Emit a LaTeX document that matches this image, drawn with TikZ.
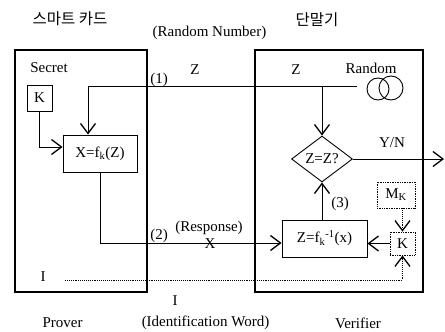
\documentclass[tikz,border=0pt]{standalone}
\usepackage{fontspec}
\setmainfont{Liberation Serif}
\newfontfamily\korfont{Noto Sans CJK KR}
\usetikzlibrary{shapes.geometric,arrows.meta,positioning,calc}

\begin{document}
\begin{tikzpicture}[
    x=1pt, y=-1pt,
    panel/.style={
        rectangle,
        draw,
        line width=1.1pt,
        inner sep=0pt
    },
    block/.style={
        rectangle,
        draw,
        line width=0.9pt,
        inner sep=0pt,
        font=\fontsize{15}{17}\selectfont
    },
    keybox/.style={
        rectangle,
        draw,
        densely dotted,
        line width=0.7pt,
        inner sep=0pt,
        font=\fontsize{15}{17}\selectfont
    },
    lbl/.style={inner sep=0pt, font=\fontsize{15}{17}\selectfont},
    kor/.style={inner sep=0pt, font=\korfont\fontsize{15.5}{17}\selectfont},
    arrow/.style={-{Straight Barb[length=10pt,width=15pt,line width=1.3pt]}, line width=0.9pt},
    idline/.style={densely dotted, line width=0.7pt}
]
    \useasboundingbox (0,0) rectangle (445,332);

    % Panels
    \node[panel, minimum width=132pt, minimum height=242pt] (card) at (81,171) {};
    \node[panel, minimum width=168pt, minimum height=242pt] (term) at (339,171) {};

    % Boxes
    \node[block, minimum width=25pt, minimum height=26pt] (key) at (39.5,98) {K};
    \node[block, minimum width=74pt, minimum height=37pt] (enc) at (100,153.5) {X=f\textsubscript{k}(Z)};
    \node[block, diamond, aspect=1.3, minimum width=61pt, minimum height=46pt] (cmp) at (322,159) {Z=Z?};
    \node[block, minimum width=85pt, minimum height=37pt] (dec) at (324.5,238.5) {Z=f\textsubscript{k}\textsuperscript{-1}(x)};
    \node[keybox, minimum width=38pt, minimum height=26pt] (mk) at (396,195) {M\textsubscript{K}};
    \node[keybox, minimum width=25pt, minimum height=23pt] (kv) at (402.5,243.5) {K};

    % Random source
    \node[circle, draw, line width=0.9pt, minimum size=22pt, inner sep=0pt] (rnda) at (378,89) {};
    \node[circle, draw, line width=0.9pt, minimum size=24pt, inner sep=0pt] (rndb) at (391,88) {};

    % Coordinates
    \coordinate (zl) at (88,86);
    \coordinate (zr) at (357,86);
    \coordinate (out) at (444,159);
    \coordinate (il) at (65,280);

    % Arrows
    \draw[line width=0.9pt] (zl) -- (zr);
    \draw[arrow] (zl) -- (zl |- enc.north);
    \draw[arrow] (cmp.north |- zl) -- (cmp.north);
    \draw[arrow] (key.south) |- ([yshift=6.5pt]enc.west);
    \draw[arrow] (enc.south) |- ([yshift=-4.5pt]dec.west);
    \draw[arrow] (dec.north -| cmp.south) -- (cmp.south);
    \draw[arrow] (cmp.east) -- (out);
    \draw[arrow] (kv.west) -- (kv.west -| dec.east);
    \draw[idline, arrow, densely dotted] (mk.south -| kv.north) -- (kv.north);
    \draw[idline, arrow, densely dotted] (il) -| (kv.south);

    % Labels
    \node[kor] (cardlbl) at (70,19) {스마트 카드};
    \node[kor] (termlbl) at (317,20) {단말기};
    \node[lbl] (rndnum) at (209.5,33) {(Random Number)};
    \node[lbl] (secret) at (49,68) {Secret};
    \node[lbl] (zleft) at (195,70) {Z};
    \node[lbl] (zright) at (296,70) {Z};
    \node[lbl] (random) at (371,68) {Random};
    \node[lbl] (one) at (159,80) {(1)};
    \node[lbl] (two) at (159,236) {(2)};
    \node[lbl] (three) at (340,204) {(3)};
    \node[lbl] (resp) at (209,228) {(Response)};
    \node[lbl] (xmark) at (210,244) {X};
    \node[lbl] (yn) at (392,143) {Y/N};
    \node[lbl] (ileft) at (43,277) {I};
    \node[lbl] (ibelow) at (175,301) {I};
    \node[lbl] (prover) at (62.5,323) {Prover};
    \node[lbl] (idword) at (205.5,323) {(Identification Word)};
    \node[lbl] (verifier) at (358,323) {Verifier};
\end{tikzpicture}
\end{document}
